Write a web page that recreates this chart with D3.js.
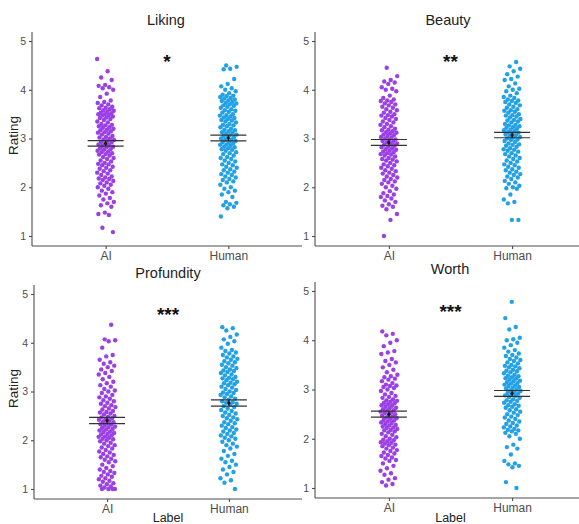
<!DOCTYPE html>
<html>
<head>
<meta charset="UTF-8">
<title>Ratings by label</title>
<script src="https://cdn.jsdelivr.net/npm/d3@7"></script>
<style>
  body, html { margin:0; padding:0; background:#fff; }
  svg { display:block; font-family: "Liberation Sans", Arial, sans-serif; }
  .axis path, .axis line { stroke:#4d4d4d; stroke-width:1.1; }
  .axis text { fill:#4d4d4d; font-size:10.5px; }
  .xaxis text { font-size:12px; }
</style>
</head>
<body>
<div id="chart"></div>
<script>
// ---- data ----
var measures = ['Liking', 'Beauty', 'Profundity', 'Worth'];
var groups = ['AI', 'Human'];
var stars = ['*', '**', '***', '***'];
var yTicks = [1, 2, 3, 4, 5];

var meanAI    = [2.90, 2.92, 2.405, 2.50];
var seAI      = [0.055, 0.06, 0.065, 0.06];
var meanHuman = [3.01, 3.07, 2.765, 2.92];
var seHuman   = [0.06, 0.055, 0.065, 0.06];

var likingAI = [4.63,4.38,4.25,4.2,4.1,4.08,4.05,4.03,4.0,3.92,3.85,3.78,3.75,3.73,3.7,3.68,3.65,3.63,3.62,3.6,3.58,3.57,3.55,3.53,3.52,3.5,3.5,3.48,3.47,3.45,3.43,3.42,3.4,3.38,3.35,3.33,3.3,3.28,3.27,3.25,3.23,3.22,3.2,3.18,3.17,3.15,3.13,3.12,3.1,3.08,3.05,3.03,3.02,3.0,2.98,2.97,2.95,2.93,2.92,2.9,2.88,2.87,2.85,2.83,2.82,2.8,2.78,2.77,2.75,2.73,2.72,2.7,2.68,2.67,2.65,2.62,2.6,2.58,2.55,2.53,2.5,2.48,2.47,2.45,2.42,2.4,2.38,2.35,2.33,2.3,2.28,2.25,2.22,2.2,2.18,2.17,2.15,2.13,2.1,2.08,2.05,2.03,2.0,1.97,1.93,1.9,1.87,1.83,1.78,1.75,1.7,1.67,1.63,1.6,1.48,1.45,1.43,1.17,1.08];
var likingHuman = [4.5,4.47,4.43,4.42,4.22,4.12,4.07,4.03,4.0,3.97,3.93,3.9,3.88,3.87,3.85,3.83,3.82,3.8,3.78,3.77,3.75,3.73,3.72,3.7,3.68,3.67,3.65,3.63,3.6,3.58,3.57,3.55,3.53,3.5,3.48,3.47,3.45,3.43,3.42,3.4,3.38,3.37,3.35,3.33,3.3,3.28,3.27,3.25,3.23,3.2,3.18,3.17,3.15,3.13,3.12,3.1,3.08,3.07,3.05,3.03,3.02,3.0,2.98,2.97,2.95,2.93,2.92,2.9,2.88,2.87,2.85,2.83,2.82,2.8,2.78,2.77,2.75,2.72,2.7,2.68,2.65,2.62,2.6,2.58,2.55,2.53,2.5,2.47,2.45,2.42,2.4,2.37,2.35,2.32,2.3,2.27,2.25,2.22,2.2,2.17,2.15,2.12,2.1,2.05,2.0,1.97,1.93,1.9,1.85,1.8,1.7,1.68,1.65,1.63,1.6,1.57,1.4];
var beautyAI = [4.45,4.28,4.2,4.17,4.15,4.12,4.05,4.02,4.0,3.97,3.88,3.83,3.8,3.78,3.77,3.75,3.72,3.7,3.68,3.65,3.63,3.6,3.58,3.55,3.53,3.5,3.48,3.47,3.45,3.42,3.4,3.38,3.35,3.33,3.3,3.28,3.25,3.23,3.2,3.18,3.17,3.15,3.13,3.12,3.1,3.08,3.07,3.05,3.03,3.02,3.0,2.98,2.97,2.95,2.93,2.92,2.9,2.88,2.87,2.85,2.83,2.82,2.8,2.78,2.77,2.75,2.73,2.72,2.7,2.68,2.67,2.65,2.63,2.6,2.58,2.57,2.55,2.53,2.5,2.47,2.45,2.43,2.4,2.38,2.35,2.33,2.3,2.28,2.25,2.22,2.2,2.17,2.15,2.12,2.1,2.07,2.03,2.0,1.97,1.92,1.88,1.85,1.82,1.8,1.77,1.73,1.7,1.65,1.62,1.6,1.55,1.45,1.33,1.0];
var beautyHuman = [4.57,4.48,4.43,4.38,4.32,4.27,4.22,4.2,4.13,4.07,4.02,4.0,3.97,3.93,3.88,3.85,3.83,3.8,3.78,3.77,3.75,3.73,3.7,3.68,3.65,3.63,3.6,3.58,3.57,3.55,3.53,3.5,3.48,3.47,3.45,3.43,3.4,3.38,3.37,3.35,3.33,3.3,3.28,3.27,3.25,3.23,3.22,3.2,3.18,3.17,3.15,3.13,3.12,3.1,3.08,3.07,3.05,3.03,3.02,3.0,2.98,2.97,2.95,2.93,2.9,2.88,2.87,2.85,2.83,2.8,2.78,2.77,2.75,2.73,2.7,2.68,2.65,2.63,2.6,2.58,2.55,2.53,2.5,2.47,2.45,2.42,2.4,2.37,2.35,2.32,2.3,2.27,2.25,2.22,2.2,2.17,2.13,2.1,2.07,2.03,2.0,1.98,1.97,1.85,1.75,1.7,1.67,1.33,1.33];
var profundityAI = [4.37,4.07,4.05,4.03,3.9,3.75,3.72,3.65,3.6,3.57,3.53,3.5,3.45,3.42,3.38,3.35,3.3,3.25,3.2,3.17,3.13,3.1,3.05,3.02,3.0,2.97,2.93,2.9,2.88,2.85,2.82,2.8,2.77,2.75,2.72,2.7,2.68,2.65,2.63,2.6,2.58,2.57,2.55,2.53,2.5,2.48,2.47,2.45,2.43,2.42,2.4,2.38,2.37,2.35,2.33,2.32,2.3,2.28,2.27,2.25,2.23,2.22,2.2,2.18,2.17,2.15,2.13,2.12,2.1,2.08,2.07,2.05,2.03,2.02,2.0,1.98,1.95,1.93,1.9,1.88,1.85,1.83,1.8,1.77,1.75,1.72,1.7,1.67,1.65,1.62,1.6,1.57,1.55,1.5,1.47,1.43,1.4,1.37,1.35,1.33,1.3,1.27,1.25,1.22,1.2,1.17,1.15,1.12,1.1,1.07,1.05,1.03,1.0,1.0,1.0,1.0];
var profundityHuman = [4.32,4.3,4.25,4.17,4.12,4.07,4.03,3.98,3.9,3.85,3.83,3.8,3.78,3.75,3.72,3.7,3.67,3.65,3.62,3.6,3.58,3.55,3.53,3.5,3.48,3.45,3.43,3.42,3.4,3.38,3.35,3.33,3.3,3.28,3.27,3.25,3.23,3.2,3.18,3.17,3.15,3.13,3.1,3.08,3.05,3.03,3.0,2.98,2.97,2.95,2.93,2.9,2.88,2.85,2.83,2.8,2.78,2.77,2.75,2.73,2.7,2.68,2.65,2.62,2.6,2.57,2.55,2.52,2.5,2.47,2.45,2.43,2.4,2.37,2.35,2.33,2.3,2.27,2.25,2.22,2.2,2.18,2.15,2.13,2.1,2.08,2.05,2.03,2.0,1.97,1.93,1.9,1.87,1.83,1.78,1.72,1.68,1.62,1.58,1.55,1.5,1.45,1.4,1.35,1.3,1.22,1.18,1.13,1.0];
var worthAI = [4.18,4.13,4.1,4.0,3.95,3.88,3.78,3.75,3.72,3.62,3.58,3.55,3.5,3.45,3.4,3.35,3.3,3.27,3.25,3.22,3.2,3.17,3.13,3.1,3.08,3.07,3.05,3.03,3.0,2.97,2.93,2.9,2.87,2.85,2.83,2.8,2.78,2.77,2.75,2.73,2.72,2.7,2.68,2.67,2.65,2.63,2.62,2.6,2.58,2.57,2.55,2.53,2.52,2.5,2.48,2.47,2.45,2.43,2.42,2.4,2.38,2.37,2.35,2.33,2.32,2.3,2.28,2.27,2.25,2.23,2.22,2.2,2.18,2.17,2.15,2.13,2.1,2.08,2.05,2.03,2.0,1.98,1.97,1.95,1.93,1.92,1.9,1.88,1.87,1.85,1.82,1.8,1.77,1.75,1.72,1.7,1.67,1.65,1.62,1.6,1.57,1.55,1.5,1.45,1.4,1.35,1.3,1.27,1.2,1.17,1.12,1.08,1.05];
var worthHuman = [4.78,4.45,4.27,4.22,4.05,4.02,4.0,3.95,3.9,3.85,3.8,3.77,3.73,3.7,3.68,3.65,3.62,3.6,3.58,3.55,3.53,3.5,3.48,3.47,3.45,3.43,3.4,3.38,3.37,3.35,3.33,3.3,3.28,3.27,3.25,3.23,3.22,3.2,3.18,3.17,3.15,3.13,3.12,3.1,3.08,3.07,3.05,3.03,3.02,3.0,2.98,2.97,2.95,2.93,2.92,2.9,2.88,2.87,2.85,2.83,2.8,2.78,2.77,2.75,2.73,2.7,2.68,2.67,2.65,2.63,2.6,2.58,2.55,2.53,2.5,2.48,2.45,2.43,2.4,2.37,2.35,2.32,2.3,2.27,2.25,2.23,2.2,2.18,2.17,2.15,2.12,2.1,2.05,2.0,1.88,1.83,1.8,1.68,1.55,1.5,1.48,1.45,1.42,1.12,1.0];

var ratingsAI = [likingAI, beautyAI, profundityAI, worthAI];
var ratingsHuman = [likingHuman, beautyHuman, profundityHuman, worthHuman];

// ---- layout ----
var W = 579, H = 524;
var colors = { AI: '#9b3fe6', Human: '#23a1e6' };
// panel frames: left axis x, right end, y of value 1, y of value 5, x-axis y, axis top, title y, title centre
var panels = [
  { x0: 32,  x1: 302, y1: 236, y5: 41,  yb: 246, yt: 32,  title: 20,  tc: 166 },
  { x0: 315, x1: 586, y1: 236, y5: 41,  yb: 246, yt: 32,  title: 20,  tc: 448 },
  { x0: 34,  x1: 302, y1: 489, y5: 294, yb: 499, yt: 285, title: 273, tc: 168 },
  { x0: 315, x1: 586, y1: 488, y5: 291, yb: 498, yt: 282, title: 269, tc: 450 }
];

var svg = d3.select('#chart').append('svg').attr('width', W).attr('height', H);

// deterministic jitter offset in [-1, 1]
function jit(i, k) { var v = (i * 0.6180339887 + k * 0.37) % 1; return v * 2 - 1; }

panels.forEach(function(p, k) {
  var g = svg.append('g');
  var y = d3.scaleLinear().domain([1, 5]).range([p.y1, p.y5]);
  var x = d3.scalePoint().domain(groups).range([p.x0, p.x1]).padding(0.6);

  // points
  [ratingsAI[k], ratingsHuman[k]].forEach(function(vals, gi) {
    var grp = groups[gi];
    g.append('g').selectAll('circle')
      .data(vals)
      .enter().append('circle')
      .attr('cx', function(d, i) { return x(grp) + jit(i, gi + k) * 8.5; })
      .attr('cy', function(d) { return y(d); })
      .attr('r', 2.2)
      .attr('fill', colors[grp]);
  });

  // mean +- se
  var stats = [{ g: 'AI', m: meanAI[k], s: seAI[k] }, { g: 'Human', m: meanHuman[k], s: seHuman[k] }];
  stats.forEach(function(st) {
    var cx = x(st.g);
    [st.m - st.s, st.m + st.s].forEach(function(v) {
      g.append('line').attr('x1', cx - 18).attr('x2', cx + 18)
        .attr('y1', y(v)).attr('y2', y(v))
        .attr('stroke', '#333').attr('stroke-width', 1.2);
    });
    g.append('line').attr('x1', cx).attr('x2', cx)
      .attr('y1', y(st.m - st.s)).attr('y2', y(st.m + st.s))
      .attr('stroke', '#111').attr('stroke-width', 1);
    g.append('circle').attr('cx', cx).attr('cy', y(st.m)).attr('r', 1.6).attr('fill', '#111');
  });

  // axes
  var ya = g.append('g').attr('class', 'axis')
    .attr('transform', 'translate(' + p.x0 + ',0)')
    .call(d3.axisLeft(y).tickValues(yTicks).tickSize(3).tickFormat(d3.format('d')));
  ya.select('.domain').remove();
  g.append('line').attr('x1', p.x0).attr('x2', p.x0).attr('y1', p.yt).attr('y2', p.yb)
    .attr('stroke', '#4d4d4d').attr('stroke-width', 1.1);

  var xa = g.append('g').attr('class', 'axis xaxis')
    .attr('transform', 'translate(0,' + p.yb + ')')
    .call(d3.axisBottom(x).tickSize(3).tickPadding(2));
  xa.select('.domain').remove();
  g.append('line').attr('x1', p.x0).attr('x2', p.x1).attr('y1', p.yb).attr('y2', p.yb)
    .attr('stroke', '#4d4d4d').attr('stroke-width', 1.1);

  // title
  g.append('text').attr('x', p.tc).attr('y', p.title)
    .attr('text-anchor', 'middle').attr('dominant-baseline', 'central')
    .attr('font-size', 14.5).attr('fill', '#222').text(measures[k]);

  // significance
  g.append('text').attr('x', (x('AI') + x('Human')) / 2).attr('y', y(4.6) + 7)
    .attr('text-anchor', 'middle').attr('font-size', 19).attr('font-weight', 'bold')
    .attr('fill', '#111').text(stars[k]);

  // axis titles
  if (k % 2 === 0) {
    g.append('text').attr('transform', 'translate(18,' + (y(3) - 3) + ') rotate(-90)')
      .attr('text-anchor', 'middle').attr('font-size', 13.5).attr('fill', '#222').text('Rating');
  }
  if (k >= 2) {
    g.append('text').attr('x', (x('AI') + x('Human')) / 2).attr('y', 522)
      .attr('text-anchor', 'middle').attr('font-size', 12.5).attr('fill', '#222').text('Label');
  }
});
</script>
</body>
</html>
